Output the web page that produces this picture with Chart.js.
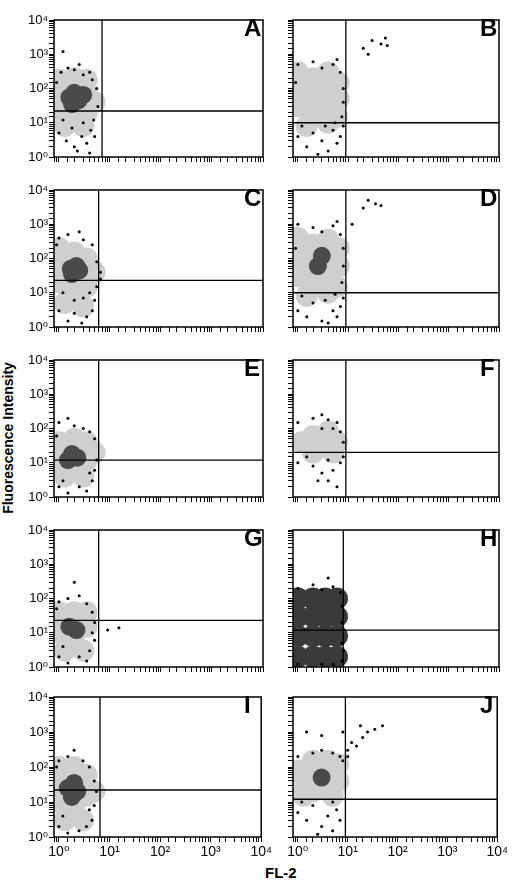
<!DOCTYPE html>
<html>
<head>
<meta charset="utf-8">
<script src="https://cdn.jsdelivr.net/npm/chart.js@4"></script>
<style>
  body { margin: 0; background: #fff; font-family: Arial, "Liberation Sans", sans-serif; }
  #wrap { position: relative; width: 520px; height: 883px; }
  .cell { position: absolute; }
  .letter { position: absolute; font-weight: bold; font-size: 24px; }
  #ytitle { position: absolute; left: -72px; top: 430px; width: 160px; transform: rotate(-90deg);
            font-weight: bold; font-size: 14px; text-align: center; }
  #xtitle { position: absolute; left: 265px; top: 864px; font-weight: bold; font-size: 15px; }
</style>
</head>
<body>
<div id="wrap">
  <div id="ytitle">Fluorescence Intensity</div>
  <div id="xtitle">FL-2</div>
</div>
<script>
// panel letters and quadrant gate positions (FL-2, intensity)
const letters = ["A", "B", "C", "D", "E", "F", "G", "H", "I", "J"];
const gateX = [7, 9, 6, 9, 6, 9, 6, 8, 6.5, 9];
const gateY = [22, 10, 23, 10, 12, 20, 23, 12, 22, 12];
const tickLabels = { 0: "10⁰", 1: "10¹", 2: "10²", 3: "10³", 4: "10⁴" };

// light grey body of each population
const halo = [
  [[1,20],[1,60],[1,180],[2,15],[2,80],[2,200],[3.5,20],[3.5,70],[3.5,180],[5,40],[1.3,8],[3,8]],
  [[1,30],[1,100],[1,300],[2,20],[2,60],[2,200],[4,30],[4,100],[4,300],[6.5,50],[6.5,150],[1.5,8],[4,10],[6,15]],
  [[1,20],[1,80],[1,200],[2,10],[2,150],[3.5,15],[3.5,100],[5,40],[1.3,5],[3,4]],
  [[1,30],[1,100],[1,400],[2,20],[2,70],[2,250],[4,30],[4,100],[4,350],[6.5,60],[6.5,200],[1.5,8],[4,10],[6,15]],
  [[1,10],[1,40],[2,8],[2,50],[3.5,12],[3.5,40],[1.3,4],[3,4],[5,20]],
  [[1.2,40],[2,60],[3,30],[4,80],[6,40],[2,20],[5,20]],
  [[1,10],[1,40],[2,8],[2,40],[3.5,15],[3.5,40],[1.3,3],[3,3]],
  [[1,2],[1,8],[1,30],[1,100],[2,2],[2,8],[2,30],[2,100],[3.5,2],[3.5,8],[3.5,30],[3.5,100],[6,2],[6,8],[6,30],[6,100]],
  [[1,10],[1,40],[1,100],[2,8],[2,100],[3.5,15],[3.5,60],[1.3,3],[3,3],[5,20]],
  [[1,30],[1,80],[2,20],[2,60],[2,150],[4,25],[4,70],[4,150],[6.5,40],[6.5,120],[1.3,15],[5,15]]
];
// dark dense cores
const core = [
  [[1.6,55],[2.4,45],[3,65],[2,75],[1.8,35]],
  [],
  [[1.7,50],[2.5,45],[2.2,60],[1.8,35]],
  [[2.5,60],[3,120]],
  [[1.5,12],[2.3,14],[1.8,18]],
  [],
  [[1.6,15],[2.2,12]],
  [],
  [[1.5,25],[2.3,20],[2,35],[1.8,14]],
  [[3,50]]
];
// scattered single events
const dots = [
  [[1.1,300],[1.5,400],[2,350],[3,250],[4,300],[2.5,500],[1.2,1200],[4.5,180],[5.5,100],[0.9,150],[1,5],[1.4,3],[2,2],[2.8,4],[3.5,2.5],[4.2,6],[1.8,7],[3,10],[5,4],[2.3,1.5],[4,1.3],[1.2,12],[4.8,12],[5.8,30]],
  [[1,500],[2,600],[3,400],[5,500],[7,300],[8,100],[8,40],[7.5,15],[1,4],[1.5,2],[2,5],[3,3],[4,1.5],[5,6],[6,2.5],[7,4],[8,8],[2.5,1.2],[1.2,8],[0.9,150],[6,700],[20,1500],[30,2500],[45,2000],[55,3000],[60,1800],[25,1000],[3.5,8],[5.5,10]],
  [[1,400],[1.5,500],[2.5,600],[3,350],[4.5,250],[0.9,250],[5.5,80],[6.5,40],[6.5,25],[1,3],[1.5,1.5],[2,2.5],[2.8,1.3],[3.5,2],[4.5,3],[5,6],[1.2,10],[4,10],[5.5,15],[2,6],[3,7]],
  [[1,1000],[2,800],[3,600],[5,900],[7,500],[8,200],[8,60],[7.5,20],[1,3],[1.5,2],[2,5],[3,1.5],[4,1.3],[5,3],[6,2],[7,4],[8,7],[1.2,8],[0.9,200],[6,1200],[20,3000],[25,5000],[35,4000],[45,3500],[12,1000],[3.5,6],[5.5,9]],
  [[1,150],[1.5,200],[2,120],[3,100],[4,80],[0.9,60],[5,50],[1,2],[1.5,1.3],[2.5,2],[3.5,1.5],[4.5,3],[5,6],[1.2,3],[4,5],[5.5,12]],
  [[1,150],[2,200],[3,250],[4,180],[6,150],[7,80],[8,40],[1,10],[2,8],[3,5],[4,3],[5,6],[6,2],[7,10],[1.5,15],[4,12],[3,100],[5,100],[8,15],[2.5,3]],
  [[1,80],[1.5,100],[2,300],[2.5,120],[3.5,70],[4.5,40],[0.9,50],[5,20],[1,2],[1.5,1.3],[2.5,2],[3.5,1.5],[4,3],[5,6],[1.2,4],[9,12],[15,14],[4.5,10]],
  [[1,200],[2,250],[3,180],[5,220],[7,150],[7.5,60],[7.5,20],[7.5,5],[7.5,1.5],[1,1.2],[3,1.2],[5,1.2],[4,400],[8,3]],
  [[1,150],[1.5,200],[2,300],[3,150],[4,100],[0.9,100],[5,40],[5.5,20],[1,2],[1.5,1.3],[2.5,1.5],[3.5,2],[4.5,3],[5,8],[1.2,4],[4,6]],
  [[1,200],[2,250],[3,300],[5,250],[7,200],[8,150],[10,300],[12,500],[15,400],[20,700],[25,1000],[35,1200],[50,1500],[18,1500],[8,1000],[3,800],[1.5,1000],[10,200],[1,5],[1.5,3],[2,8],[3,2],[4,4],[5,1.5],[6,6],[7,3],[2.5,1.2],[1.2,10],[5,10]]
];

const X_MIN = 0.8, X_MAX = 10000, Y_MIN = 1, Y_MAX = 10000;
const panelTops = [11, 181, 351, 521, 688];
const wrap = document.getElementById("wrap");
const FONT = "Arial, 'Liberation Sans', 'DejaVu Sans'";

const boxPlugin = {
  id: "box",
  afterDraw(c) {
    const a = c.chartArea, ctx = c.ctx;
    ctx.save();
    ctx.strokeStyle = "#000";
    ctx.lineWidth = 1.5;
    ctx.strokeRect(a.left, a.top, a.right - a.left, a.bottom - a.top);
    ctx.restore();
  }
};

const pts = arr => arr.map(p => ({ x: p[0], y: p[1] }));

function tickCb(v) {
  const l = Math.log10(v);
  return Math.abs(l - Math.round(l)) < 1e-6 ? tickLabels[Math.round(l)] : "";
}

letters.forEach((letter, i) => {
  const row = Math.floor(i / 2), col = i % 2;
  const bottom = row === 4;
  const yW = col === 0 ? 32 : 8;
  const xH = bottom ? 32 : 8;
  const left = col === 0 ? 22 : 282;
  const top = panelTops[row] - 2;

  const cell = document.createElement("div");
  cell.className = "cell";
  cell.style.left = left + "px";
  cell.style.top = top + "px";
  cell.style.width = (yW + 220) + "px";
  cell.style.height = (151 + xH) + "px";
  const cv = document.createElement("canvas");
  cell.appendChild(cv);
  wrap.appendChild(cell);

  const lab = document.createElement("div");
  lab.className = "letter";
  lab.textContent = letter;
  lab.style.left = (left + yW + 216 - 26) + "px";
  lab.style.top = (top + 5) + "px";
  wrap.appendChild(lab);

  const haloColor = letter === "H" ? "#3a3a3a" : "#cfcfcf";

  new Chart(cv, {
    type: "scatter",
    data: {
      datasets: [
        { data: [{ x: gateX[i], y: Y_MIN }, { x: gateX[i], y: Y_MAX }], type: "line",
          borderColor: "#000", borderWidth: 1.3, pointRadius: 0, order: 0 },
        { data: [{ x: X_MIN, y: gateY[i] }, { x: X_MAX, y: gateY[i] }], type: "line",
          borderColor: "#000", borderWidth: 1.3, pointRadius: 0, order: 0 },
        { data: pts(dots[i]), backgroundColor: "#000", borderWidth: 0, pointRadius: 1.5, order: 1 },
        { data: pts(core[i]), backgroundColor: "#4a4a4a", borderWidth: 0, pointRadius: 9, order: 2 },
        { data: pts(halo[i]), backgroundColor: haloColor, borderWidth: 0, pointRadius: 11, order: 3 }
      ]
    },
    options: {
      responsive: true,
      maintainAspectRatio: false,
      animation: false,
      events: [],
      clip: 0,
      layout: { padding: { top: 2, right: 4, left: 0, bottom: 0 } },
      plugins: { legend: { display: false }, tooltip: { enabled: false } },
      scales: {
        x: {
          type: "logarithmic", min: X_MIN, max: X_MAX,
          afterFit: s => { s.height = xH; },
          border: { display: false },
          grid: { drawOnChartArea: false, tickLength: 5, color: "#000", lineWidth: 1 },
          ticks: { display: bottom, autoSkip: false, maxRotation: 0, color: "#000",
                   font: { size: 14, family: FONT }, padding: 2, callback: tickCb }
        },
        y: {
          type: "logarithmic", min: Y_MIN, max: Y_MAX,
          afterFit: s => { s.width = yW; },
          border: { display: false },
          grid: { drawOnChartArea: false, tickLength: 5, color: "#000", lineWidth: 1 },
          ticks: { display: col === 0, autoSkip: false, color: "#000",
                   font: { size: 13, family: FONT }, padding: 1, callback: tickCb }
        }
      }
    },
    plugins: [boxPlugin]
  });
});
</script>
</body>
</html>
